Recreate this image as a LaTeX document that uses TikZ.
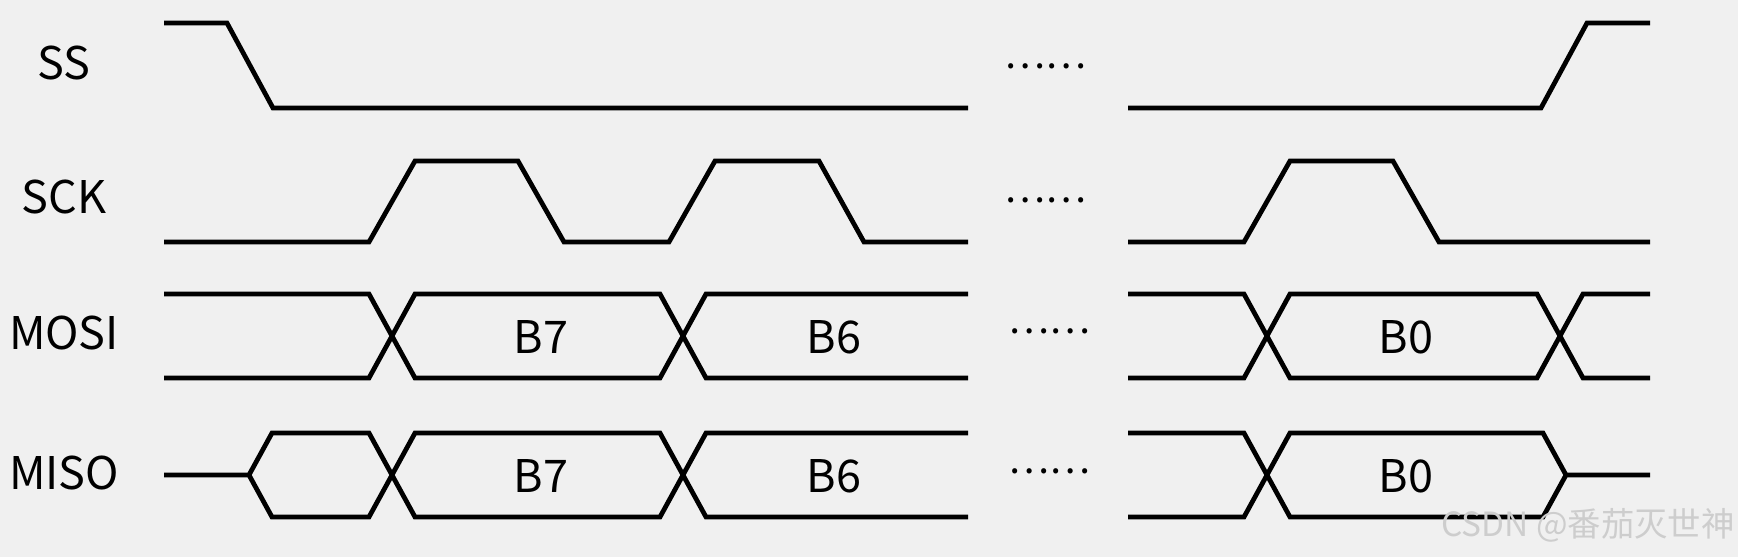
\documentclass[tikz,border=0pt]{standalone}
\usepackage{fontspec}
\setmainfont{Noto Sans CJK SC}
\usepackage{xcolor}
\usepackage{tikz}
\definecolor{bgray}{HTML}{F0F0F0}
\definecolor{wmark}{HTML}{CDCDCD}

\begin{document}
\begin{tikzpicture}[x=0.01cm,y=-0.01cm,
		wave/.style={line width=1.35pt},
		sig/.style={font=\fontsize{12.8}{15}\selectfont,inner sep=0pt},
		gap/.style={font=\fontsize{11}{13}\selectfont,inner sep=0pt}]
		\fill[bgray] (0,0) rectangle (1738,557);
		\node[sig] (SS) at (64,63) {SS};
		\node[sig] (SCK) at (64,197) {SCK};
		\node[sig] (MOSI) at (64,333) {MOSI};
		\node[sig] (MISO) at (64,473) {MISO};
		%
		\node[gap] (dSS) at (1045,66) {……};
		\node[gap] (dSCK) at (1045,200) {……};
		\node[gap] (dMOSI) at (1049,331) {……};
		\node[gap] (dMISO) at (1049,471) {……};
		%
		\node[sig] (o7) at (541,337) {B7};
		\node[sig] (o6) at (834,337) {B6};
		\node[sig] (o0) at (1406,337) {B0};
		\node[sig] (i7) at (541,476) {B7};
		\node[sig] (i6) at (834,476) {B6};
		\node[sig] (i0) at (1406,476) {B0};
		%
		\draw[wave] (164,23) -- (227,23) -- (273,108) -- (968,108);
		\draw[wave] (1128,108) -- (1541,108) -- (1587,23) -- (1650,23);
		%
		\draw[wave] (164,242) -- (369,242) -- (415,161) -- (518,161) -- (564,242) -- (669,242)
			-- (715,161) -- (819,161) -- (864,242) -- (968,242);
		\draw[wave] (1128,242) -- (1244,242) -- (1290,161) -- (1393,161) -- (1439,242) -- (1650,242);
		%
		\draw[wave] (164,294) -- (369,294) -- (415,378) -- (660,378) -- (706,294) -- (968,294);
		\draw[wave] (164,378) -- (369,378) -- (415,294) -- (660,294) -- (706,378) -- (968,378);
		\draw[wave] (1128,294) -- (1244,294) -- (1290,378) -- (1537,378) -- (1583,294) -- (1650,294);
		\draw[wave] (1128,378) -- (1244,378) -- (1290,294) -- (1537,294) -- (1583,378) -- (1650,378);
		%
		\draw[wave] (164,475) -- (249,475) -- (272,433) -- (369,433) -- (415,517) -- (660,517)
			-- (706,433) -- (968,433);
		\draw[wave] (249,475) -- (272,517) -- (369,517) -- (415,433) -- (660,433) -- (706,517) -- (968,517);
		\draw[wave] (1128,433) -- (1244,433) -- (1290,517) -- (1543,517) -- (1566,475) -- (1650,475);
		\draw[wave] (1128,517) -- (1244,517) -- (1290,433) -- (1543,433) -- (1566,475);
		%
		\node[font=\fontsize{9.5}{11}\selectfont,text=wmark,inner sep=0pt] (wm) at (1588,525) {CSDN @番茄灭世神};
\end{tikzpicture}
\end{document}
